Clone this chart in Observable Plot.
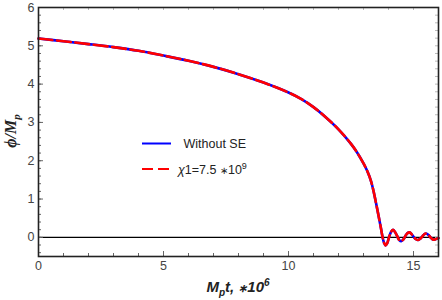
<!DOCTYPE html>
<html><head><meta charset="utf-8">
<script src="https://cdn.jsdelivr.net/npm/d3@7"></script>
<script src="https://cdn.jsdelivr.net/npm/@observablehq/plot@0.6"></script>
<style>body{margin:0;background:#fff}</style>
</head><body><div id="chart"></div>
<script>
// time in units of 10^6 / Mp
const t = [0, 1, 2, 3, 4, 5, 6, 7, 8, 9, 10, 10.5, 11, 11.5, 12, 12.5, 12.75, 13, 13.15, 13.3, 13.4, 13.5, 13.6, 13.7, 13.75, 13.82, 13.88, 13.95, 14.02, 14.1, 14.18, 14.26, 14.35, 14.43, 14.51, 14.6, 14.68, 14.76, 14.84, 14.93, 15.01, 15.1, 15.18, 15.26, 15.35, 15.43, 15.51, 15.6, 15.68, 15.76, 15.84, 15.92, 16];
const phiNoSE = [5.19, 5.12, 5.045, 4.965, 4.87, 4.745, 4.61, 4.45, 4.26, 4.04, 3.78, 3.615, 3.40, 3.13, 2.82, 2.44, 2.21, 1.93, 1.73, 1.47, 1.21, 0.90, 0.57, 0.23, 0.05, -0.14, -0.21, -0.15, 0.00, 0.14, 0.20, 0.14, 0.03, -0.07, -0.10, -0.05, 0.04, 0.11, 0.13, 0.08, 0.01, -0.05, -0.07, -0.04, 0.02, 0.08, 0.10, 0.06, 0.00, -0.05, -0.06, -0.04, -0.02];
const phiChi = [5.19, 5.12, 5.045, 4.965, 4.87, 4.745, 4.61, 4.45, 4.26, 4.04, 3.78, 3.615, 3.40, 3.13, 2.82, 2.44, 2.21, 1.93, 1.73, 1.47, 1.21, 0.90, 0.57, 0.23, 0.05, -0.14, -0.21, -0.15, 0.00, 0.14, 0.20, 0.14, 0.03, -0.07, -0.10, -0.05, 0.04, 0.11, 0.13, 0.08, 0.01, -0.05, -0.07, -0.04, 0.02, 0.08, 0.10, 0.06, 0.00, -0.05, -0.06, -0.04, -0.02];
const xTicks = [0, 5, 10, 15];
const yTicks = [0, 1, 2, 3, 4, 5, 6];
const xMinor = [0,1,2,3,4,5,6,7,8,9,10,11,12,13,14,15,16];
const yMinor = [-0.4,-0.2,0,0.2,0.4,0.6,0.8,1,1.2,1.4,1.6,1.8,2,2.2,2.4,2.6,2.8,3,3.2,3.4,3.6,3.8,4,4.2,4.4,4.6,4.8,5,5.2,5.4,5.6,5.8,6];
const seriesNames = ["Without SE", "χ1=7.5 ∗10⁹"];

const W = 442, H = 300, mL = 38, mR = 4, mT = 7, mB = 44;
const fw = W - mL - mR, fh = H - mT - mB;
const rows = t.map((x, i) => ({t: x, a: phiNoSE[i], b: phiChi[i]}));
const tickCol = "#666";

const plot = Plot.plot({
  width: W, height: H,
  marginLeft: mL, marginRight: mR, marginTop: mT, marginBottom: mB,
  style: {fontFamily: "'Liberation Sans', Arial, sans-serif", fontSize: "12px", color: "#444", background: "#fff"},
  x: {domain: [0, 16]},
  y: {domain: [-0.5, 6]},
  marks: [
    Plot.ruleY([0], {stroke: "#000", strokeWidth: 1.1}),
    Plot.tickX(xMinor, {x: d => d, insetTop: fh - 3, stroke: tickCol}),
    Plot.tickX(xMinor, {x: d => d, insetBottom: fh - 3, stroke: "#bbb"}),
    Plot.tickY(yMinor, {y: d => d, insetRight: fw - 3, stroke: tickCol}),
    Plot.tickY(yMinor, {y: d => d, insetLeft: fw - 3, stroke: "#bbb"}),
    Plot.tickX(xTicks, {x: d => d, insetTop: fh - 5, stroke: tickCol}),
    Plot.tickY(yTicks, {y: d => d, insetRight: fw - 5, stroke: tickCol}),
    Plot.axisX({ticks: xTicks, tickSize: 0, tickPadding: 5, label: null, fontSize: 12.5, tickFormat: d3.format("d")}),
    Plot.axisY({ticks: yTicks, tickSize: 0, tickPadding: 4, label: null, fontSize: 12.5, tickFormat: d3.format("d")}),
    Plot.line(rows, {x: "t", y: "a", stroke: "#0000ff", strokeWidth: 2.6, curve: "catmull-rom"}),
    Plot.line(rows, {x: "t", y: "b", stroke: "#ff0000", strokeWidth: 2.6, strokeDasharray: "14,4.5", curve: "catmull-rom"}),
    Plot.frame({stroke: "#222", strokeWidth: 1.6})
  ]
});

const svg = d3.select(plot);
// Legend
const leg = svg.append("g").attr("text-anchor", "start");
leg.append("line").attr("x1", 142).attr("x2", 171).attr("y1", 143.5).attr("y2", 143.5)
  .attr("stroke", "#0000ff").attr("stroke-width", 2);
leg.append("line").attr("x1", 142).attr("x2", 171).attr("y1", 169).attr("y2", 169)
  .attr("stroke", "#ff0000").attr("stroke-width", 2).attr("stroke-dasharray", "11,5");
leg.append("text").attr("x", 183.5).attr("y", 147.5).attr("text-anchor", "start")
  .style("font", "12.5px 'Liberation Sans', Arial, sans-serif").attr("fill", "#222")
  .text(seriesNames[0]);
const t2 = leg.append("text").attr("x", 178).attr("y", 173.5).attr("text-anchor", "start")
  .style("font", "12.5px 'Liberation Sans', Arial, sans-serif").attr("fill", "#222");
t2.append("tspan").style("font-style", "italic").text("χ");
t2.append("tspan").text("1=7.5 ");
t2.append("tspan").style("font-size", "10px").text("∗");
t2.append("tspan").text("10");
t2.append("tspan").attr("dy", -5).style("font-size", "9px").text("9");

// Axis titles
const yl = svg.append("text").attr("transform", "translate(16,131) rotate(-90)")
  .attr("text-anchor", "middle").attr("fill", "#222")
  .style("font", "italic bold 16px 'Liberation Serif', 'DejaVu Serif', serif");
yl.append("tspan").text("ϕ/M");
yl.append("tspan").attr("dy", 4).style("font-size", "11px").text("p");

const xl = svg.append("text").attr("x", 238).attr("y", 292)
  .attr("text-anchor", "middle").attr("fill", "#222")
  .style("font", "italic bold 15px 'Liberation Sans', Arial, sans-serif");
xl.append("tspan").text("M");
xl.append("tspan").attr("dy", 4).style("font-size", "10px").text("p");
xl.append("tspan").attr("dy", -4).text("t, ");
xl.append("tspan").style("font-size", "11px").text("∗");
xl.append("tspan").text("10");
xl.append("tspan").attr("dy", -6).style("font-size", "10px").text("6");

document.getElementById("chart").appendChild(plot);
</script>
</body></html>
